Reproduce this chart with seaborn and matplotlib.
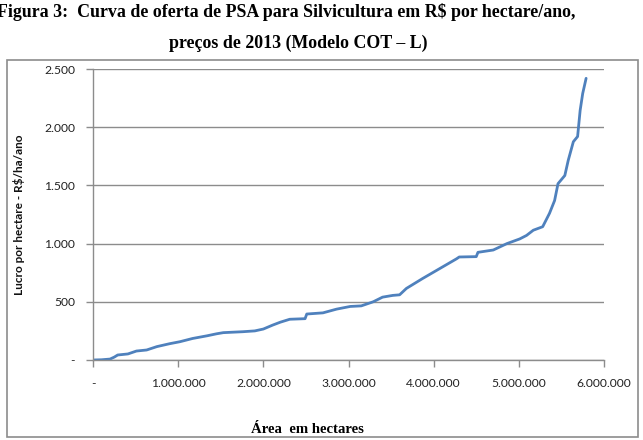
import matplotlib
matplotlib.use("Agg")
import matplotlib.pyplot as plt
import matplotlib.ticker as mticker
from matplotlib.patches import Rectangle
import seaborn as sns
import pandas as pd

# Data (area in hectares, profit in R$/ha/ano)
area_mi = [0.00, 0.10, 0.20, 0.25, 0.29, 0.41, 0.51, 0.63, 0.75, 0.90, 1.02, 1.17,
           1.34, 1.45, 1.53, 1.76, 1.90, 2.00, 2.11, 2.20, 2.31, 2.49, 2.51, 2.70,
           2.86, 3.02, 3.15, 3.29, 3.40, 3.52, 3.60, 3.68, 3.87, 4.07, 4.27, 4.30,
           4.50, 4.52, 4.70, 4.86, 5.01, 5.09, 5.17, 5.28, 5.36, 5.42, 5.46, 5.54,
           5.58, 5.64, 5.69, 5.72, 5.75, 5.79]
lucro = [0, 2, 8, 25, 43, 52, 77, 86, 115, 140, 157, 185,
         208, 225, 235, 243, 250, 266, 300, 325, 350, 355, 395, 405,
         437, 460, 465, 500, 540, 555, 560, 615, 700, 785, 870, 885,
         888, 925, 945, 1000, 1040, 1070, 1115, 1145, 1260, 1370, 1515, 1585,
         1715, 1875, 1920, 2145, 2290, 2420]
x_ticks = [0, 1_000_000, 2_000_000, 3_000_000, 4_000_000, 5_000_000, 6_000_000]
y_ticks = [0, 500, 1000, 1500, 2000, 2500]

title_line1 = "Figura 3:  Curva de oferta de PSA para Silvicultura em R$ por hectare/ano,"
title_line2 = "preços de 2013 (Modelo COT – L)"
y_label = "Lucro por hectare - R$/ha/ano"
x_label = "Área  em hectares"

df = pd.DataFrame({"area": [a * 1_000_000 for a in area_mi], "lucro": lucro})

sns.set_theme(style="white")
plt.rcParams["font.family"] = ["Lato", "DejaVu Sans"]

fig = plt.figure(figsize=(6.43, 4.40), dpi=100)
W, H = 643, 440
ax = fig.add_axes([93 / W, 1 - 360 / H, (604 - 93) / W, (360 - 69) / H])

# Outer chart border
fig.patches.append(Rectangle((7 / W, 1 - 437 / H), (638 - 7) / W, (437 - 60) / H,
                             transform=fig.transFigure, fill=False,
                             edgecolor="#8c8c8c", linewidth=1.2, zorder=0))

sns.lineplot(data=df, x="area", y="lucro", ax=ax, color="#4F81BD", linewidth=2.0)

ax.set_xlim(0, 6_000_000)
ax.set_ylim(0, 2500)
ax.set_xticks(x_ticks)
ax.set_yticks(y_ticks)

def fmt(v, pos=None):
    if v == 0:
        return "-"
    return f"{int(round(v)):,}".replace(",", ".")

ax.xaxis.set_major_formatter(mticker.FuncFormatter(fmt))
ax.yaxis.set_major_formatter(mticker.FuncFormatter(fmt))

ax.grid(axis="y", color="#8c8c8c", linewidth=1.0)
ax.grid(axis="x", visible=False)
for s in ["top", "right"]:
    ax.spines[s].set_visible(False)
for s in ["left", "bottom"]:
    ax.spines[s].set_color("#8c8c8c")
    ax.spines[s].set_linewidth(1.0)

ax.tick_params(axis="both", direction="out", length=5, width=1, color="#8c8c8c",
               labelsize=8.7, labelcolor="#222222")
ax.tick_params(axis="y", pad=8, left=True)
ax.tick_params(axis="x", pad=8, bottom=True)

ax.set_xlabel("")
ax.set_ylabel(y_label, fontsize=8.5, fontweight="bold", color="#111111", labelpad=14)

fig.text(-3 / W, 1 - 12 / H, title_line1, fontsize=12.9, fontweight="bold",
         family=["Liberation Serif"], ha="left", va="center", color="#000000")
fig.text(298 / W, 1 - 43 / H, title_line2, fontsize=12.9, fontweight="bold",
         family=["Liberation Serif"], ha="center", va="center", color="#000000")
fig.text(307 / W, 1 - 429 / H, x_label, fontsize=10.6, fontweight="bold",
         family=["Liberation Serif"], ha="center", va="center", color="#000000")

fig.savefig("out.png", dpi=100)
